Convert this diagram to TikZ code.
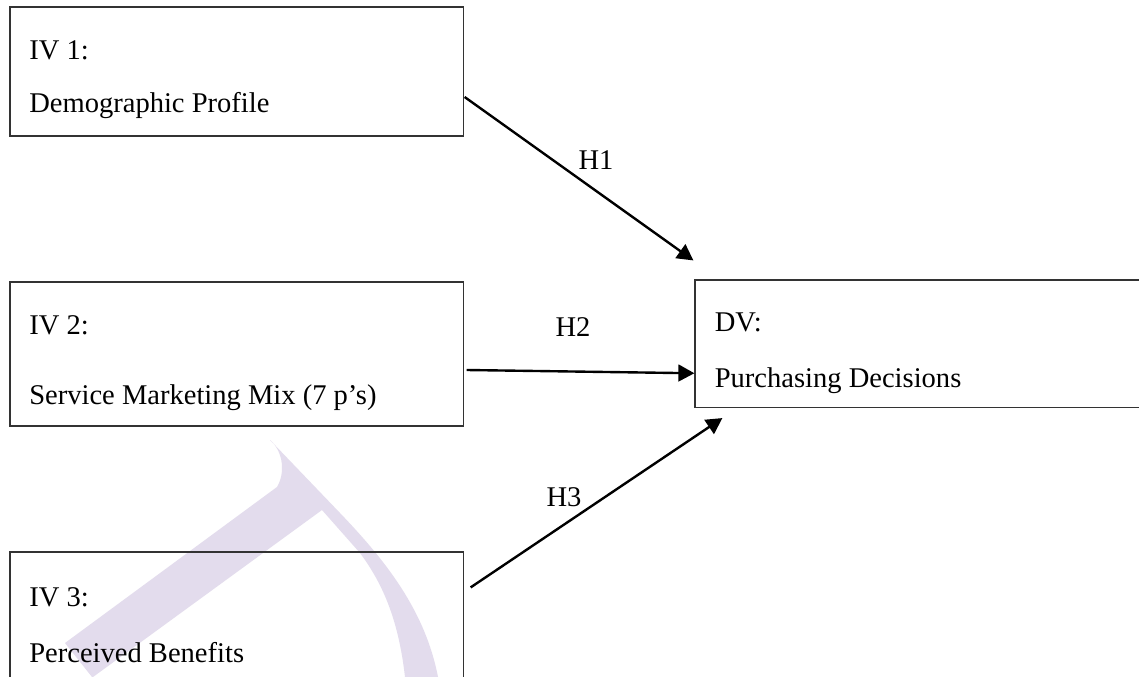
\documentclass[tikz,border=0pt]{standalone}
\usepackage{fontspec}
\setmainfont{Liberation Serif}
\usepackage{tikz}
\usetikzlibrary{arrows.meta,calc,positioning}

\definecolor{wmark}{RGB}{227,220,237}

\tikzset{
  varbox/.style={draw=black!80, line width=0.8pt, rectangle, inner sep=0pt},
  boxtext/.style={anchor=base west, inner sep=0pt},
  hyp/.style={-{Triangle[length=0.4cm,width=0.42cm]}, line width=1.7pt},
  hlabel/.style={anchor=base, inner sep=0pt}
}

\begin{document}
\begin{tikzpicture}[x=0.025cm, y=-0.025cm, font=\fontsize{20.3}{24}\selectfont]
  \useasboundingbox (0,0) rectangle (1139,677);
  \clip (0,0) rectangle (1139,677);
  \fill[white] (0,0) rectangle (1139,677);
  % watermark behind the third box
  \fill[wmark] (270,440) -- (340,513) .. controls (385,560) and (425,610) .. (438,677)
    -- (405,677) .. controls (398,615) and (380,580) .. (360,553) -- (322,510)
    -- (93,677) -- (92,677) -- (65,643) -- (277,487)
    .. controls (285,474) and (284,452) .. (270,440) -- cycle;

  % variable boxes
  \node[varbox, minimum width=11.325cm, minimum height=3.225cm] (iv1) at (236.5,71.5) {};
  \node[varbox, minimum width=11.325cm, minimum height=3.6cm] (iv2) at (236.5,354) {};
  \node[varbox, minimum width=11.325cm, minimum height=4.2cm] (iv3) at (236.5,636) {};
  \node[varbox, minimum width=11.75cm, minimum height=3.1875cm] (dv) at (930,343.75) {};

  \node[boxtext] (iv1head) at (29,59.5) {IV 1:};
  \node[boxtext] (iv1name) at (29,112.5) {Demographic Profile};
  \node[boxtext] (iv2head) at (29,334.5) {IV 2:};
  \node[boxtext] (iv2name) at (29,404.5) {Service Marketing Mix (7 p’s)};
  \node[boxtext] (iv3head) at (29,606.5) {IV 3:};
  \node[boxtext] (iv3name) at (29,662.5) {Perceived Benefits};
  \node[boxtext] (dvhead) at (714.5,331.5) {DV:};
  \node[boxtext] (dvname) at (714.5,387.5) {Purchasing Decisions};

  % hypotheses
  \draw[hyp] ([shift={(1,25.5)}]iv1.east) -- ([shift={(-1,-19)}]dv.north west);
  \draw[hyp] ([shift={(3,16)}]iv2.east) -- ([shift={(0,29.5)}]dv.west);
  \draw[hyp] ([shift={(7,36)}]iv3.north east) -- ([shift={(28,10)}]dv.south west);

  \node[hlabel] (h1) at (596,169.5) {H1};
  \node[hlabel] (h2) at (573,336.5) {H2};
  \node[hlabel] (h3) at (564,506.5) {H3};
\end{tikzpicture}
\end{document}
